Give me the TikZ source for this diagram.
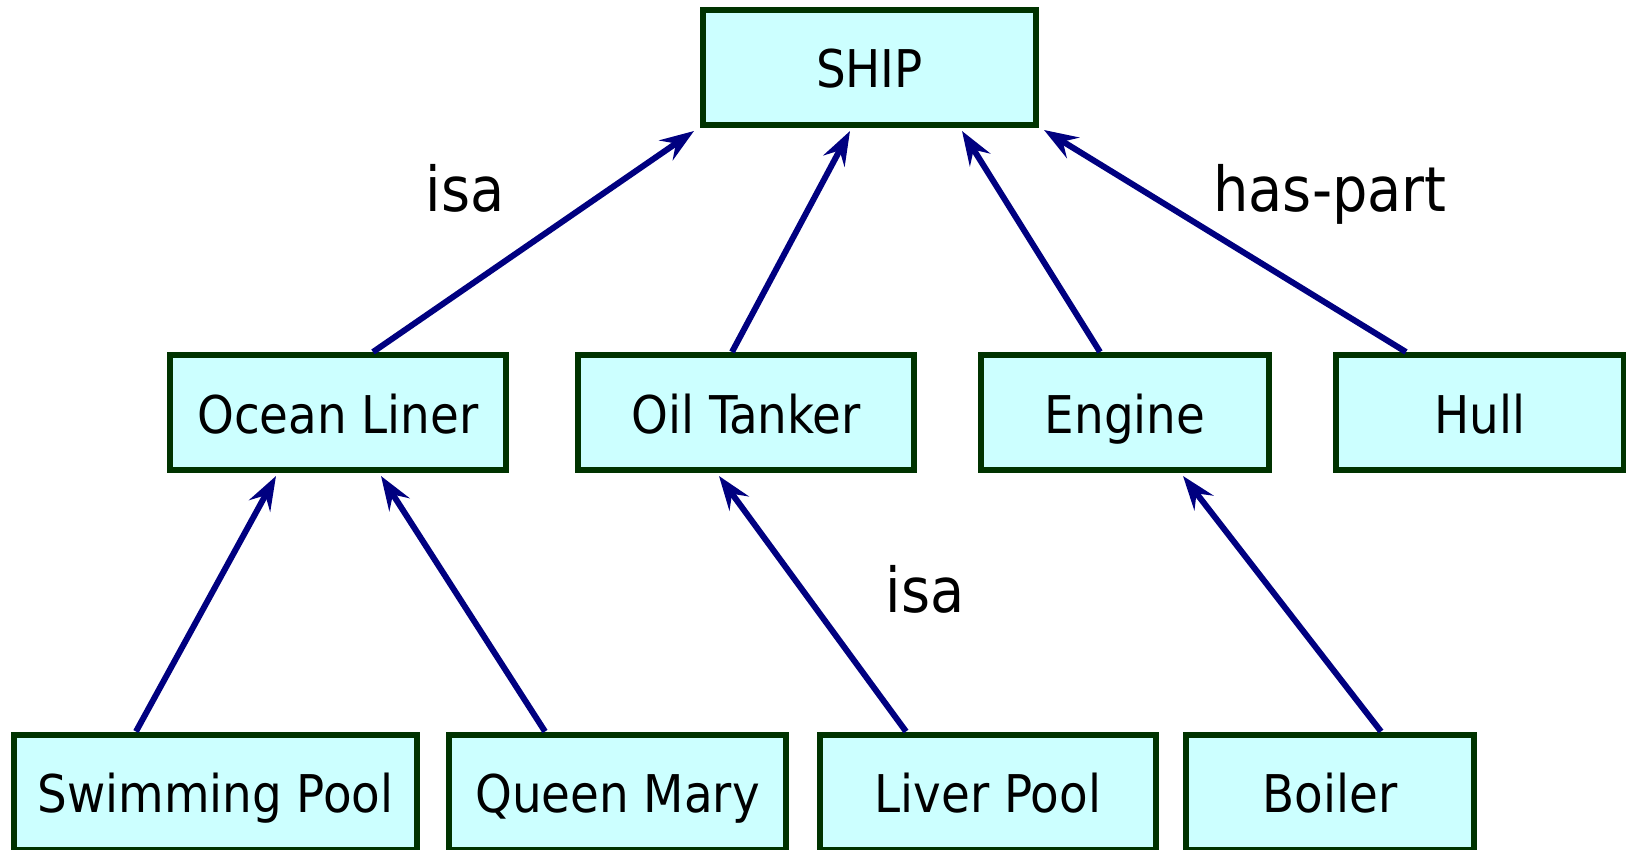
\documentclass[tikz,border=0pt]{standalone}
\usepackage{fontspec}
\setmainfont{DejaVu Sans Condensed}
\usetikzlibrary{arrows.meta,calc}
\definecolor{boxfill}{HTML}{CCFFFF}
\definecolor{boxline}{HTML}{003300}
\definecolor{edgecol}{HTML}{000080}
\begin{document}
\begin{tikzpicture}[x=0.5pt,y=-0.5pt,
  box/.style={draw=boxline,fill=boxfill,line width=3pt,inner sep=0pt,
    minimum height=57.5pt,text height=26pt,text depth=5.5pt,
    font=\fontsize{26}{30}\selectfont},
  edge/.style={draw=edgecol,line width=3pt,
    -{Stealth[length=17pt,width=12pt,inset=6pt]}},
  lbl/.style={anchor=base,inner sep=0pt,font=\fontsize{31}{36}\selectfont}]
\useasboundingbox (0,0) rectangle (1626,850);
\node[box,minimum width=166.5pt] (ship) at (869.5,67.5) {SHIP};
\node[box,minimum width=168pt] (ol) at (338,412.5) {Ocean Liner};
\node[box,minimum width=168pt] (ot) at (746,412.5) {Oil Tanker};
\node[box,minimum width=144pt] (en) at (1125,412.5) {Engine};
\node[box,minimum width=144pt] (hull) at (1480,412.5) {Hull};
\node[box,minimum width=201.5pt] (sp) at (215.5,792) {Swimming Pool};
\node[box,minimum width=168.5pt] (qm) at (617.5,792) {Queen Mary};
\node[box,minimum width=168pt] (lp) at (988,792) {Liver Pool};
\node[box,minimum width=144pt] (bo) at (1330,792) {Boiler};
\draw[edge] ($(ol.north)+(35,0)$) -- ($(ship.south west)+(-6,3)$);
\draw[edge] ($(ot.north)+(-14,0)$) -- ($(ship.south)+(-19.5,3)$);
\draw[edge] ($(en.north)+(-25,0)$) -- ($(ship.south)+(92.5,3)$);
\draw[edge] ($(hull.north)+(-74,0)$) -- ($(ship.south east)+(5,2)$);
\draw[edge] ($(sp.north)+(-79.5,0)$) -- ($(ol.south)+(-62,3)$);
\draw[edge] ($(qm.north)+(-72.5,0)$) -- ($(ol.south)+(43,3)$);
\draw[edge] ($(lp.north)+(-82,0)$) -- ($(ot.south)+(-27,3)$);
\draw[edge] ($(bo.north)+(51,0)$) -- ($(en.south)+(58,3)$);
\node[lbl] (isa1) at (465,212) {isa};
\node[lbl] (haspart) at (1330,212) {has-part};
\node[lbl] (isa2) at (925,612) {isa};
\end{tikzpicture}
\end{document}
